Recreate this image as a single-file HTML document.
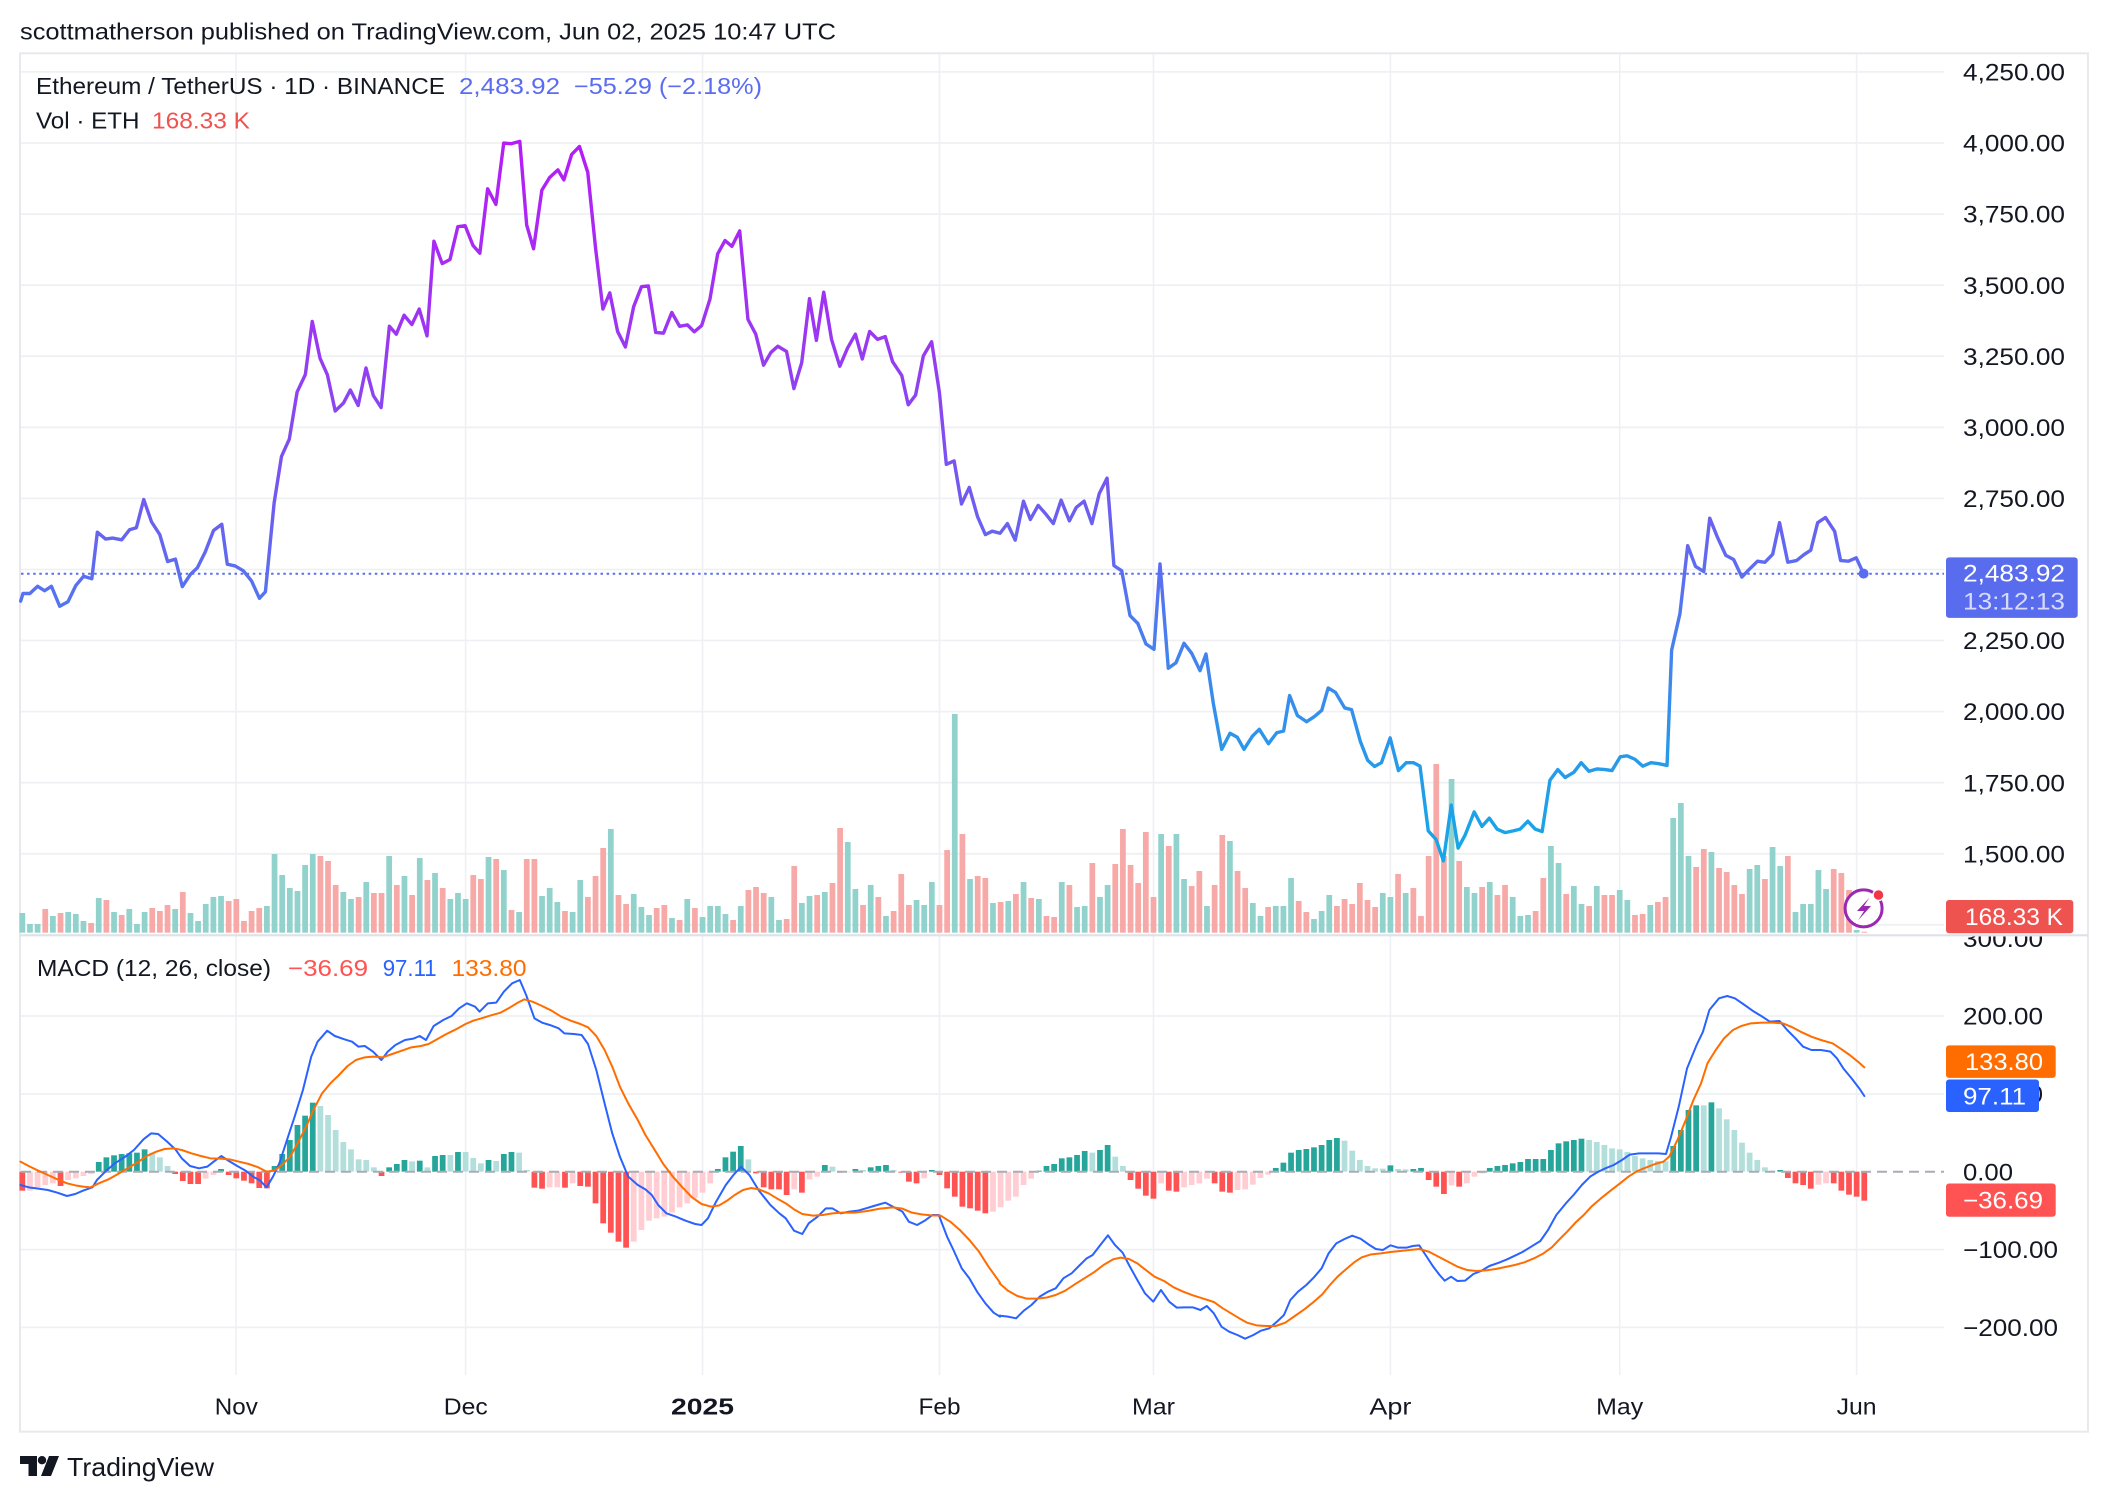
<!DOCTYPE html>
<html><head><meta charset="utf-8">
<style>
html,body{margin:0;padding:0;background:#fff;width:2108px;height:1502px;overflow:hidden}
svg{display:block}
text{font-family:"Liberation Sans",Arial,sans-serif;fill:#131722}
.a{fill:#92d2cc}.b{fill:#f7a9a7}
.G{fill:#26a69a}.h{fill:#b2dfdb}.R{fill:#ff5252}.q{fill:#ffcdd2}
.w{fill:#ffffff}.wl{fill:#d6dbfb}
.pv{fill:#5a6cf0}.rv{fill:#ef5350}.mr{fill:#ff5252}.mb{fill:#2962ff}.mo{fill:#ff6d00}
</style></head><body>
<svg width="2108" height="1502" viewBox="0 0 2108 1502" xmlns="http://www.w3.org/2000/svg">
<defs>
<linearGradient id="gO" gradientUnits="userSpaceOnUse" x1="0" y1="140" x2="0" y2="860">
<stop offset="0" stop-color="#b61cf6"/><stop offset="0.264" stop-color="#9c36f2"/><stop offset="0.472" stop-color="#7656f0"/><stop offset="0.604" stop-color="#5b6ef0"/><stop offset="0.722" stop-color="#4284ee"/><stop offset="0.861" stop-color="#279ae9"/><stop offset="1" stop-color="#14a8e8"/>
</linearGradient>
<linearGradient id="gA" gradientUnits="userSpaceOnUse" x1="0" y1="140" x2="0" y2="860" gradientTransform="scale(1,2.90369) translate(0,-100)">
<stop offset="0" stop-color="#b61cf6"/><stop offset="0.264" stop-color="#9c36f2"/><stop offset="0.472" stop-color="#7656f0"/><stop offset="0.604" stop-color="#5b6ef0"/><stop offset="0.722" stop-color="#4284ee"/><stop offset="0.861" stop-color="#279ae9"/><stop offset="1" stop-color="#14a8e8"/>
</linearGradient>
<linearGradient id="gC" gradientUnits="userSpaceOnUse" x1="0" y1="140" x2="0" y2="860" gradientTransform="scale(1,2.90369) translate(0,-440)">
<stop offset="0" stop-color="#b61cf6"/><stop offset="0.264" stop-color="#9c36f2"/><stop offset="0.472" stop-color="#7656f0"/><stop offset="0.604" stop-color="#5b6ef0"/><stop offset="0.722" stop-color="#4284ee"/><stop offset="0.861" stop-color="#279ae9"/><stop offset="1" stop-color="#14a8e8"/>
</linearGradient>
<clipPath id="c300"><rect x="1940" y="936.5" width="160" height="30"/></clipPath>
</defs>

<!-- header -->
<text x="20" y="39.3" font-size="23" textLength="816" lengthAdjust="spacingAndGlyphs">scottmatherson published on TradingView.com, Jun 02, 2025 10:47 UTC</text>

<!-- frame -->
<rect x="20" y="53.3" width="2068" height="1378.4" fill="none" stroke="#e8e9ed" stroke-width="2"/>

<!-- vertical grid -->
<g stroke="#eff0f3" stroke-width="1.6">
<line x1="236" y1="54" x2="236" y2="1375"/>
<line x1="465.6" y1="54" x2="465.6" y2="1375"/>
<line x1="702.5" y1="54" x2="702.5" y2="1375"/>
<line x1="939.5" y1="54" x2="939.5" y2="1375"/>
<line x1="1153.5" y1="54" x2="1153.5" y2="1375"/>
<line x1="1390.4" y1="54" x2="1390.4" y2="1375"/>
<line x1="1619.7" y1="54" x2="1619.7" y2="1375"/>
<line x1="1856.6" y1="54" x2="1856.6" y2="1375"/>
</g>
<!-- horizontal grid -->
<g stroke="#eff0f3" stroke-width="1.8">
<line x1="21" y1="71.9" x2="1944" y2="71.9"/>
<line x1="21" y1="143" x2="1944" y2="143"/>
<line x1="21" y1="214.1" x2="1944" y2="214.1"/>
<line x1="21" y1="285.2" x2="1944" y2="285.2"/>
<line x1="21" y1="356.2" x2="1944" y2="356.2"/>
<line x1="21" y1="427.3" x2="1944" y2="427.3"/>
<line x1="21" y1="498.4" x2="1944" y2="498.4"/>
<line x1="21" y1="569.5" x2="1944" y2="569.5"/>
<line x1="21" y1="640.5" x2="1944" y2="640.5"/>
<line x1="21" y1="711.6" x2="1944" y2="711.6"/>
<line x1="21" y1="782.7" x2="1944" y2="782.7"/>
<line x1="21" y1="853.8" x2="1944" y2="853.8"/>
<line x1="21" y1="924.8" x2="1944" y2="924.8"/>
<line x1="21" y1="1016" x2="1944" y2="1016"/>
<line x1="21" y1="1094" x2="1944" y2="1094"/>
<line x1="21" y1="1249.6" x2="1944" y2="1249.6"/>
<line x1="21" y1="1327.4" x2="1944" y2="1327.4"/>
</g>

<!-- volume bars -->
<g transform="translate(19.45,700) scale(7.643,0.33333)">
<rect class="a" x="0" y="639" width=".75" height="59"/>
<rect class="a" x="1" y="672" width=".75" height="26"/>
<rect class="a" x="2" y="672" width=".75" height="26"/>
<rect class="b" x="3" y="627" width=".75" height="71"/>
<rect class="a" x="4" y="648" width=".75" height="50"/>
<rect class="b" x="5" y="639" width=".75" height="59"/>
<rect class="a" x="6" y="636" width=".75" height="62"/>
<rect class="a" x="7" y="642" width=".75" height="56"/>
<rect class="a" x="8" y="663" width=".75" height="35"/>
<rect class="b" x="9" y="669" width=".75" height="29"/>
<rect class="a" x="10" y="594" width=".75" height="104"/>
<rect class="b" x="11" y="600" width=".75" height="98"/>
<rect class="a" x="12" y="636" width=".75" height="62"/>
<rect class="b" x="13" y="645" width=".75" height="53"/>
<rect class="a" x="14" y="627" width=".75" height="71"/>
<rect class="a" x="15" y="672" width=".75" height="26"/>
<rect class="a" x="16" y="636" width=".75" height="62"/>
<rect class="b" x="17" y="624" width=".75" height="74"/>
<rect class="b" x="18" y="633" width=".75" height="65"/>
<rect class="b" x="19" y="615" width=".75" height="83"/>
<rect class="a" x="20" y="627" width=".75" height="71"/>
<rect class="b" x="21" y="576" width=".75" height="122"/>
<rect class="a" x="22" y="639" width=".75" height="59"/>
<rect class="a" x="23" y="663" width=".75" height="35"/>
<rect class="a" x="24" y="612" width=".75" height="86"/>
<rect class="a" x="25" y="591" width=".75" height="107"/>
<rect class="a" x="26" y="588" width=".75" height="110"/>
<rect class="b" x="27" y="603" width=".75" height="95"/>
<rect class="b" x="28" y="597" width=".75" height="101"/>
<rect class="b" x="29" y="663" width=".75" height="35"/>
<rect class="b" x="30" y="633" width=".75" height="65"/>
<rect class="b" x="31" y="624" width=".75" height="74"/>
<rect class="a" x="32" y="618" width=".75" height="80"/>
<rect class="a" x="33" y="462" width=".75" height="236"/>
<rect class="a" x="34" y="525" width=".75" height="173"/>
<rect class="a" x="35" y="564" width=".75" height="134"/>
<rect class="a" x="36" y="573" width=".75" height="125"/>
<rect class="a" x="37" y="495" width=".75" height="203"/>
<rect class="a" x="38" y="462" width=".75" height="236"/>
<rect class="b" x="39" y="468" width=".75" height="230"/>
<rect class="b" x="40" y="483" width=".75" height="215"/>
<rect class="b" x="41" y="555" width=".75" height="143"/>
<rect class="a" x="42" y="576" width=".75" height="122"/>
<rect class="a" x="43" y="597" width=".75" height="101"/>
<rect class="b" x="44" y="591" width=".75" height="107"/>
<rect class="a" x="45" y="546" width=".75" height="152"/>
<rect class="b" x="46" y="579" width=".75" height="119"/>
<rect class="b" x="47" y="579" width=".75" height="119"/>
<rect class="a" x="48" y="468" width=".75" height="230"/>
<rect class="b" x="49" y="555" width=".75" height="143"/>
<rect class="a" x="50" y="528" width=".75" height="170"/>
<rect class="b" x="51" y="585" width=".75" height="113"/>
<rect class="a" x="52" y="474" width=".75" height="224"/>
<rect class="b" x="53" y="540" width=".75" height="158"/>
<rect class="a" x="54" y="519" width=".75" height="179"/>
<rect class="b" x="55" y="564" width=".75" height="134"/>
<rect class="a" x="56" y="597" width=".75" height="101"/>
<rect class="a" x="57" y="579" width=".75" height="119"/>
<rect class="a" x="58" y="597" width=".75" height="101"/>
<rect class="b" x="59" y="525" width=".75" height="173"/>
<rect class="b" x="60" y="537" width=".75" height="161"/>
<rect class="a" x="61" y="471" width=".75" height="227"/>
<rect class="b" x="62" y="477" width=".75" height="221"/>
<rect class="a" x="63" y="510" width=".75" height="188"/>
<rect class="b" x="64" y="630" width=".75" height="68"/>
<rect class="a" x="65" y="636" width=".75" height="62"/>
<rect class="b" x="66" y="477" width=".75" height="221"/>
<rect class="b" x="67" y="477" width=".75" height="221"/>
<rect class="a" x="68" y="588" width=".75" height="110"/>
<rect class="a" x="69" y="564" width=".75" height="134"/>
<rect class="a" x="70" y="606" width=".75" height="92"/>
<rect class="b" x="71" y="633" width=".75" height="65"/>
<rect class="a" x="72" y="636" width=".75" height="62"/>
<rect class="a" x="73" y="540" width=".75" height="158"/>
<rect class="b" x="74" y="591" width=".75" height="107"/>
<rect class="b" x="75" y="528" width=".75" height="170"/>
<rect class="b" x="76" y="444" width=".75" height="254"/>
<rect class="a" x="77" y="387" width=".75" height="311"/>
<rect class="b" x="78" y="585" width=".75" height="113"/>
<rect class="b" x="79" y="612" width=".75" height="86"/>
<rect class="a" x="80" y="582" width=".75" height="116"/>
<rect class="a" x="81" y="621" width=".75" height="77"/>
<rect class="a" x="82" y="645" width=".75" height="53"/>
<rect class="b" x="83" y="624" width=".75" height="74"/>
<rect class="b" x="84" y="615" width=".75" height="83"/>
<rect class="a" x="85" y="654" width=".75" height="44"/>
<rect class="b" x="86" y="660" width=".75" height="38"/>
<rect class="a" x="87" y="597" width=".75" height="101"/>
<rect class="b" x="88" y="624" width=".75" height="74"/>
<rect class="a" x="89" y="651" width=".75" height="47"/>
<rect class="a" x="90" y="618" width=".75" height="80"/>
<rect class="a" x="91" y="618" width=".75" height="80"/>
<rect class="a" x="92" y="642" width=".75" height="56"/>
<rect class="b" x="93" y="660" width=".75" height="38"/>
<rect class="a" x="94" y="618" width=".75" height="80"/>
<rect class="b" x="95" y="570" width=".75" height="128"/>
<rect class="b" x="96" y="561" width=".75" height="137"/>
<rect class="b" x="97" y="579" width=".75" height="119"/>
<rect class="a" x="98" y="591" width=".75" height="107"/>
<rect class="a" x="99" y="660" width=".75" height="38"/>
<rect class="b" x="100" y="657" width=".75" height="41"/>
<rect class="b" x="101" y="498" width=".75" height="200"/>
<rect class="a" x="102" y="609" width=".75" height="89"/>
<rect class="a" x="103" y="588" width=".75" height="110"/>
<rect class="b" x="104" y="585" width=".75" height="113"/>
<rect class="a" x="105" y="576" width=".75" height="122"/>
<rect class="b" x="106" y="549" width=".75" height="149"/>
<rect class="b" x="107" y="384" width=".75" height="314"/>
<rect class="a" x="108" y="426" width=".75" height="272"/>
<rect class="a" x="109" y="567" width=".75" height="131"/>
<rect class="b" x="110" y="615" width=".75" height="83"/>
<rect class="a" x="111" y="555" width=".75" height="143"/>
<rect class="b" x="112" y="591" width=".75" height="107"/>
<rect class="a" x="113" y="648" width=".75" height="50"/>
<rect class="b" x="114" y="633" width=".75" height="65"/>
<rect class="b" x="115" y="522" width=".75" height="176"/>
<rect class="b" x="116" y="615" width=".75" height="83"/>
<rect class="a" x="117" y="600" width=".75" height="98"/>
<rect class="a" x="118" y="615" width=".75" height="83"/>
<rect class="a" x="119" y="546" width=".75" height="152"/>
<rect class="b" x="120" y="615" width=".75" height="83"/>
<rect class="b" x="121" y="450" width=".75" height="248"/>
<rect class="a" x="122" y="42" width=".75" height="656"/>
<rect class="b" x="123" y="402" width=".75" height="296"/>
<rect class="a" x="124" y="537" width=".75" height="161"/>
<rect class="b" x="125" y="528" width=".75" height="170"/>
<rect class="b" x="126" y="534" width=".75" height="164"/>
<rect class="a" x="127" y="609" width=".75" height="89"/>
<rect class="b" x="128" y="606" width=".75" height="92"/>
<rect class="a" x="129" y="603" width=".75" height="95"/>
<rect class="b" x="130" y="582" width=".75" height="116"/>
<rect class="a" x="131" y="546" width=".75" height="152"/>
<rect class="b" x="132" y="594" width=".75" height="104"/>
<rect class="a" x="133" y="597" width=".75" height="101"/>
<rect class="b" x="134" y="648" width=".75" height="50"/>
<rect class="b" x="135" y="651" width=".75" height="47"/>
<rect class="a" x="136" y="546" width=".75" height="152"/>
<rect class="b" x="137" y="555" width=".75" height="143"/>
<rect class="a" x="138" y="621" width=".75" height="77"/>
<rect class="a" x="139" y="618" width=".75" height="80"/>
<rect class="b" x="140" y="489" width=".75" height="209"/>
<rect class="a" x="141" y="591" width=".75" height="107"/>
<rect class="a" x="142" y="555" width=".75" height="143"/>
<rect class="b" x="143" y="492" width=".75" height="206"/>
<rect class="b" x="144" y="387" width=".75" height="311"/>
<rect class="b" x="145" y="495" width=".75" height="203"/>
<rect class="b" x="146" y="549" width=".75" height="149"/>
<rect class="b" x="147" y="396" width=".75" height="302"/>
<rect class="b" x="148" y="591" width=".75" height="107"/>
<rect class="a" x="149" y="402" width=".75" height="296"/>
<rect class="b" x="150" y="438" width=".75" height="260"/>
<rect class="a" x="151" y="402" width=".75" height="296"/>
<rect class="a" x="152" y="537" width=".75" height="161"/>
<rect class="b" x="153" y="558" width=".75" height="140"/>
<rect class="b" x="154" y="513" width=".75" height="185"/>
<rect class="a" x="155" y="618" width=".75" height="80"/>
<rect class="b" x="156" y="555" width=".75" height="143"/>
<rect class="b" x="157" y="405" width=".75" height="293"/>
<rect class="a" x="158" y="423" width=".75" height="275"/>
<rect class="b" x="159" y="513" width=".75" height="185"/>
<rect class="b" x="160" y="564" width=".75" height="134"/>
<rect class="a" x="161" y="609" width=".75" height="89"/>
<rect class="a" x="162" y="648" width=".75" height="50"/>
<rect class="b" x="163" y="621" width=".75" height="77"/>
<rect class="a" x="164" y="618" width=".75" height="80"/>
<rect class="a" x="165" y="618" width=".75" height="80"/>
<rect class="a" x="166" y="534" width=".75" height="164"/>
<rect class="b" x="167" y="603" width=".75" height="95"/>
<rect class="b" x="168" y="636" width=".75" height="62"/>
<rect class="a" x="169" y="657" width=".75" height="41"/>
<rect class="a" x="170" y="633" width=".75" height="65"/>
<rect class="a" x="171" y="585" width=".75" height="113"/>
<rect class="b" x="172" y="618" width=".75" height="80"/>
<rect class="b" x="173" y="597" width=".75" height="101"/>
<rect class="b" x="174" y="612" width=".75" height="86"/>
<rect class="b" x="175" y="549" width=".75" height="149"/>
<rect class="b" x="176" y="600" width=".75" height="98"/>
<rect class="b" x="177" y="621" width=".75" height="77"/>
<rect class="a" x="178" y="579" width=".75" height="119"/>
<rect class="a" x="179" y="591" width=".75" height="107"/>
<rect class="b" x="180" y="522" width=".75" height="176"/>
<rect class="a" x="181" y="579" width=".75" height="119"/>
<rect class="b" x="182" y="564" width=".75" height="134"/>
<rect class="b" x="183" y="648" width=".75" height="50"/>
<rect class="b" x="184" y="468" width=".75" height="230"/>
<rect class="b" x="185" y="192" width=".75" height="506"/>
<rect class="b" x="186" y="468" width=".75" height="230"/>
<rect class="a" x="187" y="237" width=".75" height="461"/>
<rect class="b" x="188" y="483" width=".75" height="215"/>
<rect class="a" x="189" y="561" width=".75" height="137"/>
<rect class="a" x="190" y="579" width=".75" height="119"/>
<rect class="b" x="191" y="561" width=".75" height="137"/>
<rect class="a" x="192" y="546" width=".75" height="152"/>
<rect class="b" x="193" y="585" width=".75" height="113"/>
<rect class="b" x="194" y="555" width=".75" height="143"/>
<rect class="a" x="195" y="591" width=".75" height="107"/>
<rect class="a" x="196" y="648" width=".75" height="50"/>
<rect class="a" x="197" y="645" width=".75" height="53"/>
<rect class="b" x="198" y="633" width=".75" height="65"/>
<rect class="b" x="199" y="534" width=".75" height="164"/>
<rect class="a" x="200" y="438" width=".75" height="260"/>
<rect class="a" x="201" y="489" width=".75" height="209"/>
<rect class="b" x="202" y="582" width=".75" height="116"/>
<rect class="a" x="203" y="558" width=".75" height="140"/>
<rect class="a" x="204" y="612" width=".75" height="86"/>
<rect class="b" x="205" y="618" width=".75" height="80"/>
<rect class="a" x="206" y="558" width=".75" height="140"/>
<rect class="b" x="207" y="585" width=".75" height="113"/>
<rect class="b" x="208" y="585" width=".75" height="113"/>
<rect class="a" x="209" y="570" width=".75" height="128"/>
<rect class="a" x="210" y="600" width=".75" height="98"/>
<rect class="b" x="211" y="645" width=".75" height="53"/>
<rect class="b" x="212" y="642" width=".75" height="56"/>
<rect class="a" x="213" y="615" width=".75" height="83"/>
<rect class="b" x="214" y="606" width=".75" height="92"/>
<rect class="b" x="215" y="591" width=".75" height="107"/>
<rect class="a" x="216" y="354" width=".75" height="344"/>
<rect class="a" x="217" y="309" width=".75" height="389"/>
<rect class="a" x="218" y="468" width=".75" height="230"/>
<rect class="b" x="219" y="501" width=".75" height="197"/>
<rect class="b" x="220" y="447" width=".75" height="251"/>
<rect class="a" x="221" y="456" width=".75" height="242"/>
<rect class="b" x="222" y="504" width=".75" height="194"/>
<rect class="b" x="223" y="516" width=".75" height="182"/>
<rect class="b" x="224" y="555" width=".75" height="143"/>
<rect class="b" x="225" y="582" width=".75" height="116"/>
<rect class="a" x="226" y="507" width=".75" height="191"/>
<rect class="a" x="227" y="495" width=".75" height="203"/>
<rect class="b" x="228" y="537" width=".75" height="161"/>
<rect class="a" x="229" y="441" width=".75" height="257"/>
<rect class="a" x="230" y="498" width=".75" height="200"/>
<rect class="b" x="231" y="468" width=".75" height="230"/>
<rect class="a" x="232" y="636" width=".75" height="62"/>
<rect class="a" x="233" y="612" width=".75" height="86"/>
<rect class="a" x="234" y="612" width=".75" height="86"/>
<rect class="a" x="235" y="510" width=".75" height="188"/>
<rect class="a" x="236" y="567" width=".75" height="131"/>
<rect class="b" x="237" y="507" width=".75" height="191"/>
<rect class="b" x="238" y="519" width=".75" height="179"/>
<rect class="b" x="239" y="570" width=".75" height="128"/>
<rect class="a" x="240" y="690" width=".75" height="8"/>
<rect class="b" x="241" y="695" width=".75" height="3"/>
</g>

<!-- dotted last price line -->
<line x1="21" y1="573.8" x2="1944" y2="573.8" stroke="#5a6cf0" stroke-width="2" stroke-dasharray="2.5 3.6"/>

<!-- price line -->
<g fill="none" stroke-width="3.4" stroke-linejoin="round" stroke-linecap="round">
<polyline vector-effect="non-scaling-stroke" stroke="url(#gA)" transform="translate(0,100) scale(0.45918,0.34439)" points="45,1455 50,1433 65,1433 82,1412 97,1425 112,1412 130,1470 148,1457 165,1410 182,1383 200,1390 212,1255 230,1275 245,1272 265,1277 282,1248 297,1242 313,1160 330,1225 348,1262 365,1340 382,1333 397,1413 415,1377 430,1358 447,1312 465,1250 483,1232 495,1348 512,1353 530,1367 548,1397 565,1447 578,1428 597,1170 613,1035 630,985 647,848 665,797 680,643 697,750 713,798 730,903 748,880 763,842 780,887 797,778 813,858 830,893 848,657 863,680 880,625 897,652 913,607 930,685 945,410 963,475 980,463 997,368 1013,365 1030,422 1045,445 1062,258 1080,303 1097,125 1113,127 1132,120 1147,363 1162,432 1180,262 1197,225 1215,203 1228,232 1245,158 1262,135 1280,210 1297,430 1313,607 1328,560 1345,672 1362,717 1380,600 1397,542 1412,540 1428,675 1445,677 1463,617 1480,657 1497,653 1512,673 1528,655 1545,583"/>
<polyline vector-effect="non-scaling-stroke" stroke="url(#gA)" transform="translate(680,100) scale(0.45918,0.34439)" points="65,580 82,447 98,408 113,425 130,380 148,637 165,680 182,770 198,733 213,715 232,730 248,838 265,763 282,577 297,698 313,558 330,695 348,773 365,720 382,680 397,752 413,672 430,695 447,687 463,760 483,800 497,885 513,857 530,743 548,702 565,850 580,1058 597,1048 613,1173 630,1125 648,1210 665,1262 680,1252 697,1258 713,1230 730,1278 748,1165 763,1218 780,1177 797,1203 813,1230 830,1162 848,1222 863,1183 880,1165 897,1230 913,1143 930,1098 945,1352 962,1367 980,1497 997,1520"/>
<polyline stroke="url(#gO)" points="1137.8,623.4 1146,644 1154,649.3 1160,564 1168.3,668.3 1176,662.7 1184,643.3 1191.7,653.3 1200,670.7 1206,654 1213.3,703.3 1221.7,749.3 1230,733.3 1237.3,737.3 1244,749.3 1252.4,736.2"/>
<polyline vector-effect="non-scaling-stroke" stroke="url(#gC)" transform="translate(1240,440) scale(0.45918,0.34439)" points="27,860 42,840 62,882 80,850 95,845 108,742 125,800 145,818 162,803 178,785 192,720 208,733 228,778 243,783 262,875 278,930 293,948 308,937 327,865 345,960 362,937 378,937 392,947 410,1135 427,1160 443,1222 460,1060 475,1185 490,1148 510,1080 527,1122 543,1098 560,1130 577,1140 595,1135 610,1130 627,1107 643,1130 658,1137 675,988 692,957 708,980 727,965 743,937 760,962 778,955 795,957 810,960 828,920 843,917 860,927 877,947 895,937 912,940 930,945 940,610 958,505 975,307 992,367 1010,382 1023,227 1040,283 1058,335 1075,347 1093,398 1108,377 1127,352 1143,355 1160,332 1175,240 1193,355 1212,350 1228,333 1243,320 1258,240 1275,225 1295,265 1308,350 1325,352 1342,342 1358,388"/>
</g>
<circle cx="1863.6" cy="573.6" r="5" fill="#5a6cf0"/>

<!-- lightning icon -->
<circle cx="1863.6" cy="908.4" r="18.5" fill="#fff" stroke="#9c27b0" stroke-width="3"/>
<path d="M1869.5,897.5 L1857,911 L1864,911 L1858,920.5 L1871,906 L1864,906 Z" fill="#9c27b0"/>
<circle cx="1878.5" cy="895" r="5.5" fill="#f23645" stroke="#fff" stroke-width="1.5"/>

<!-- pane separator -->
<line x1="20" y1="935.3" x2="2088" y2="935.3" stroke="#dfe1e8" stroke-width="2.2"/>

<!-- MACD histogram -->
<g transform="translate(19.45,950) scale(7.643,0.33333)">
<rect class="R" x="0" y="665" width=".75" height="57"/>
<rect class="q" x="1" y="665" width=".75" height="57"/>
<rect class="q" x="2" y="665" width=".75" height="47"/>
<rect class="q" x="3" y="665" width=".75" height="40"/>
<rect class="q" x="4" y="665" width=".75" height="35"/>
<rect class="R" x="5" y="665" width=".75" height="43"/>
<rect class="q" x="6" y="665" width=".75" height="25"/>
<rect class="q" x="7" y="665" width=".75" height="20"/>
<rect class="q" x="8" y="665" width=".75" height="13"/>
<rect class="q" x="9" y="665" width=".75" height="7"/>
<rect class="G" x="10" y="636" width=".75" height="29"/>
<rect class="G" x="11" y="622" width=".75" height="43"/>
<rect class="G" x="12" y="616" width=".75" height="49"/>
<rect class="G" x="13" y="612" width=".75" height="53"/>
<rect class="G" x="14" y="610" width=".75" height="55"/>
<rect class="G" x="15" y="608" width=".75" height="57"/>
<rect class="G" x="16" y="598" width=".75" height="67"/>
<rect class="h" x="17" y="608" width=".75" height="57"/>
<rect class="h" x="18" y="622" width=".75" height="43"/>
<rect class="h" x="19" y="648" width=".75" height="17"/>
<rect class="R" x="20" y="665" width=".75" height="7"/>
<rect class="R" x="21" y="665" width=".75" height="28"/>
<rect class="R" x="22" y="665" width=".75" height="37"/>
<rect class="R" x="23" y="665" width=".75" height="37"/>
<rect class="q" x="24" y="665" width=".75" height="21"/>
<rect class="q" x="25" y="665" width=".75" height="10"/>
<rect class="G" x="26" y="657" width=".75" height="8"/>
<rect class="R" x="27" y="665" width=".75" height="10"/>
<rect class="R" x="28" y="665" width=".75" height="20"/>
<rect class="R" x="29" y="665" width=".75" height="27"/>
<rect class="R" x="30" y="665" width=".75" height="35"/>
<rect class="R" x="31" y="665" width=".75" height="49"/>
<rect class="R" x="32" y="665" width=".75" height="50"/>
<rect class="G" x="33" y="648" width=".75" height="17"/>
<rect class="G" x="34" y="612" width=".75" height="53"/>
<rect class="G" x="35" y="570" width=".75" height="95"/>
<rect class="G" x="36" y="525" width=".75" height="140"/>
<rect class="G" x="37" y="497" width=".75" height="168"/>
<rect class="G" x="38" y="458" width=".75" height="207"/>
<rect class="h" x="39" y="468" width=".75" height="197"/>
<rect class="h" x="40" y="495" width=".75" height="170"/>
<rect class="h" x="41" y="540" width=".75" height="125"/>
<rect class="h" x="42" y="576" width=".75" height="89"/>
<rect class="h" x="43" y="598" width=".75" height="67"/>
<rect class="h" x="44" y="628" width=".75" height="37"/>
<rect class="h" x="45" y="630" width=".75" height="35"/>
<rect class="h" x="46" y="652" width=".75" height="13"/>
<rect class="R" x="47" y="665" width=".75" height="13"/>
<rect class="G" x="48" y="652" width=".75" height="13"/>
<rect class="G" x="49" y="642" width=".75" height="23"/>
<rect class="G" x="50" y="630" width=".75" height="35"/>
<rect class="h" x="51" y="634" width=".75" height="31"/>
<rect class="G" x="52" y="632" width=".75" height="33"/>
<rect class="h" x="53" y="652" width=".75" height="13"/>
<rect class="G" x="54" y="618" width=".75" height="47"/>
<rect class="G" x="55" y="615" width=".75" height="50"/>
<rect class="h" x="56" y="615" width=".75" height="50"/>
<rect class="G" x="57" y="606" width=".75" height="59"/>
<rect class="h" x="58" y="606" width=".75" height="59"/>
<rect class="h" x="59" y="624" width=".75" height="41"/>
<rect class="h" x="60" y="640" width=".75" height="25"/>
<rect class="G" x="61" y="630" width=".75" height="35"/>
<rect class="h" x="62" y="633" width=".75" height="32"/>
<rect class="G" x="63" y="612" width=".75" height="53"/>
<rect class="G" x="64" y="606" width=".75" height="59"/>
<rect class="h" x="65" y="608" width=".75" height="57"/>
<rect class="h" x="66" y="660" width=".75" height="5"/>
<rect class="R" x="67" y="665" width=".75" height="48"/>
<rect class="R" x="68" y="665" width=".75" height="51"/>
<rect class="q" x="69" y="665" width=".75" height="47"/>
<rect class="q" x="70" y="665" width=".75" height="47"/>
<rect class="R" x="71" y="665" width=".75" height="48"/>
<rect class="q" x="72" y="665" width=".75" height="35"/>
<rect class="R" x="73" y="665" width=".75" height="43"/>
<rect class="R" x="74" y="665" width=".75" height="45"/>
<rect class="R" x="75" y="665" width=".75" height="95"/>
<rect class="R" x="76" y="665" width=".75" height="155"/>
<rect class="R" x="77" y="665" width=".75" height="183"/>
<rect class="R" x="78" y="665" width=".75" height="210"/>
<rect class="R" x="79" y="665" width=".75" height="228"/>
<rect class="q" x="80" y="665" width=".75" height="210"/>
<rect class="q" x="81" y="665" width=".75" height="175"/>
<rect class="q" x="82" y="665" width=".75" height="147"/>
<rect class="q" x="83" y="665" width=".75" height="140"/>
<rect class="q" x="84" y="665" width=".75" height="135"/>
<rect class="q" x="85" y="665" width=".75" height="123"/>
<rect class="q" x="86" y="665" width=".75" height="107"/>
<rect class="q" x="87" y="665" width=".75" height="95"/>
<rect class="q" x="88" y="665" width=".75" height="80"/>
<rect class="q" x="89" y="665" width=".75" height="63"/>
<rect class="q" x="90" y="665" width=".75" height="35"/>
<rect class="G" x="91" y="657" width=".75" height="8"/>
<rect class="G" x="92" y="622" width=".75" height="43"/>
<rect class="G" x="93" y="605" width=".75" height="60"/>
<rect class="G" x="94" y="588" width=".75" height="77"/>
<rect class="h" x="95" y="628" width=".75" height="37"/>
<rect class="R" x="96" y="665" width=".75" height="5"/>
<rect class="R" x="97" y="665" width=".75" height="47"/>
<rect class="R" x="98" y="665" width=".75" height="53"/>
<rect class="R" x="99" y="665" width=".75" height="53"/>
<rect class="R" x="100" y="665" width=".75" height="70"/>
<rect class="q" x="101" y="665" width=".75" height="53"/>
<rect class="R" x="102" y="665" width=".75" height="63"/>
<rect class="q" x="103" y="665" width=".75" height="23"/>
<rect class="q" x="104" y="665" width=".75" height="15"/>
<rect class="G" x="105" y="645" width=".75" height="20"/>
<rect class="h" x="106" y="650" width=".75" height="15"/>
<rect class="R" x="107" y="665" width=".75" height="3"/>
<rect class="q" x="108" y="665" width=".75" height="2"/>
<rect class="G" x="109" y="657" width=".75" height="8"/>
<rect class="h" x="110" y="660" width=".75" height="5"/>
<rect class="G" x="111" y="652" width=".75" height="13"/>
<rect class="G" x="112" y="648" width=".75" height="17"/>
<rect class="G" x="113" y="645" width=".75" height="20"/>
<rect class="h" x="114" y="660" width=".75" height="5"/>
<rect class="R" x="115" y="665" width=".75" height="3"/>
<rect class="R" x="116" y="665" width=".75" height="30"/>
<rect class="R" x="117" y="665" width=".75" height="35"/>
<rect class="q" x="118" y="665" width=".75" height="20"/>
<rect class="G" x="119" y="660" width=".75" height="5"/>
<rect class="R" x="120" y="665" width=".75" height="10"/>
<rect class="R" x="121" y="665" width=".75" height="50"/>
<rect class="R" x="122" y="665" width=".75" height="75"/>
<rect class="R" x="123" y="665" width=".75" height="105"/>
<rect class="R" x="124" y="665" width=".75" height="110"/>
<rect class="R" x="125" y="665" width=".75" height="117"/>
<rect class="R" x="126" y="665" width=".75" height="125"/>
<rect class="q" x="127" y="665" width=".75" height="120"/>
<rect class="q" x="128" y="665" width=".75" height="107"/>
<rect class="q" x="129" y="665" width=".75" height="87"/>
<rect class="q" x="130" y="665" width=".75" height="75"/>
<rect class="q" x="131" y="665" width=".75" height="40"/>
<rect class="q" x="132" y="665" width=".75" height="21"/>
<rect class="G" x="133" y="662" width=".75" height="3"/>
<rect class="G" x="134" y="648" width=".75" height="17"/>
<rect class="G" x="135" y="642" width=".75" height="23"/>
<rect class="G" x="136" y="625" width=".75" height="40"/>
<rect class="G" x="137" y="622" width=".75" height="43"/>
<rect class="G" x="138" y="615" width=".75" height="50"/>
<rect class="G" x="139" y="603" width=".75" height="62"/>
<rect class="h" x="140" y="608" width=".75" height="57"/>
<rect class="G" x="141" y="600" width=".75" height="65"/>
<rect class="G" x="142" y="585" width=".75" height="80"/>
<rect class="h" x="143" y="620" width=".75" height="45"/>
<rect class="h" x="144" y="648" width=".75" height="17"/>
<rect class="R" x="145" y="665" width=".75" height="25"/>
<rect class="R" x="146" y="665" width=".75" height="51"/>
<rect class="R" x="147" y="665" width=".75" height="72"/>
<rect class="R" x="148" y="665" width=".75" height="81"/>
<rect class="q" x="149" y="665" width=".75" height="35"/>
<rect class="R" x="150" y="665" width=".75" height="57"/>
<rect class="R" x="151" y="665" width=".75" height="60"/>
<rect class="q" x="152" y="665" width=".75" height="47"/>
<rect class="q" x="153" y="665" width=".75" height="40"/>
<rect class="q" x="154" y="665" width=".75" height="35"/>
<rect class="q" x="155" y="665" width=".75" height="21"/>
<rect class="R" x="156" y="665" width=".75" height="35"/>
<rect class="R" x="157" y="665" width=".75" height="60"/>
<rect class="R" x="158" y="665" width=".75" height="63"/>
<rect class="q" x="159" y="665" width=".75" height="55"/>
<rect class="q" x="160" y="665" width=".75" height="53"/>
<rect class="q" x="161" y="665" width=".75" height="39"/>
<rect class="q" x="162" y="665" width=".75" height="19"/>
<rect class="q" x="163" y="665" width=".75" height="9"/>
<rect class="G" x="164" y="654" width=".75" height="11"/>
<rect class="G" x="165" y="638" width=".75" height="27"/>
<rect class="G" x="166" y="608" width=".75" height="57"/>
<rect class="G" x="167" y="600" width=".75" height="65"/>
<rect class="G" x="168" y="597" width=".75" height="68"/>
<rect class="G" x="169" y="592" width=".75" height="73"/>
<rect class="G" x="170" y="585" width=".75" height="80"/>
<rect class="G" x="171" y="570" width=".75" height="95"/>
<rect class="G" x="172" y="564" width=".75" height="101"/>
<rect class="h" x="173" y="572" width=".75" height="93"/>
<rect class="h" x="174" y="602" width=".75" height="63"/>
<rect class="h" x="175" y="630" width=".75" height="35"/>
<rect class="h" x="176" y="648" width=".75" height="17"/>
<rect class="h" x="177" y="655" width=".75" height="10"/>
<rect class="h" x="178" y="656" width=".75" height="9"/>
<rect class="G" x="179" y="646" width=".75" height="19"/>
<rect class="h" x="180" y="657" width=".75" height="8"/>
<rect class="h" x="181" y="658" width=".75" height="7"/>
<rect class="G" x="182" y="657" width=".75" height="8"/>
<rect class="G" x="183" y="654" width=".75" height="11"/>
<rect class="R" x="184" y="665" width=".75" height="25"/>
<rect class="R" x="185" y="665" width=".75" height="45"/>
<rect class="R" x="186" y="665" width=".75" height="67"/>
<rect class="q" x="187" y="665" width=".75" height="41"/>
<rect class="R" x="188" y="665" width=".75" height="45"/>
<rect class="q" x="189" y="665" width=".75" height="35"/>
<rect class="q" x="190" y="665" width=".75" height="15"/>
<rect class="q" x="191" y="665" width=".75" height="5"/>
<rect class="G" x="192" y="654" width=".75" height="11"/>
<rect class="G" x="193" y="648" width=".75" height="17"/>
<rect class="G" x="194" y="645" width=".75" height="20"/>
<rect class="G" x="195" y="640" width=".75" height="25"/>
<rect class="G" x="196" y="636" width=".75" height="29"/>
<rect class="G" x="197" y="627" width=".75" height="38"/>
<rect class="G" x="198" y="627" width=".75" height="38"/>
<rect class="G" x="199" y="627" width=".75" height="38"/>
<rect class="G" x="200" y="600" width=".75" height="65"/>
<rect class="G" x="201" y="580" width=".75" height="85"/>
<rect class="G" x="202" y="574" width=".75" height="91"/>
<rect class="G" x="203" y="570" width=".75" height="95"/>
<rect class="G" x="204" y="566" width=".75" height="99"/>
<rect class="h" x="205" y="570" width=".75" height="95"/>
<rect class="h" x="206" y="576" width=".75" height="89"/>
<rect class="h" x="207" y="585" width=".75" height="80"/>
<rect class="h" x="208" y="595" width=".75" height="70"/>
<rect class="h" x="209" y="598" width=".75" height="67"/>
<rect class="h" x="210" y="606" width=".75" height="59"/>
<rect class="h" x="211" y="618" width=".75" height="47"/>
<rect class="h" x="212" y="625" width=".75" height="40"/>
<rect class="h" x="213" y="630" width=".75" height="35"/>
<rect class="h" x="214" y="633" width=".75" height="32"/>
<rect class="h" x="215" y="634" width=".75" height="31"/>
<rect class="G" x="216" y="588" width=".75" height="77"/>
<rect class="G" x="217" y="540" width=".75" height="125"/>
<rect class="G" x="218" y="480" width=".75" height="185"/>
<rect class="G" x="219" y="466" width=".75" height="199"/>
<rect class="h" x="220" y="466" width=".75" height="199"/>
<rect class="G" x="221" y="457" width=".75" height="208"/>
<rect class="h" x="222" y="475" width=".75" height="190"/>
<rect class="h" x="223" y="508" width=".75" height="157"/>
<rect class="h" x="224" y="540" width=".75" height="125"/>
<rect class="h" x="225" y="578" width=".75" height="87"/>
<rect class="h" x="226" y="608" width=".75" height="57"/>
<rect class="h" x="227" y="630" width=".75" height="35"/>
<rect class="h" x="228" y="652" width=".75" height="13"/>
<rect class="h" x="229" y="662" width=".75" height="3"/>
<rect class="G" x="230" y="660" width=".75" height="5"/>
<rect class="R" x="231" y="665" width=".75" height="19"/>
<rect class="R" x="232" y="665" width=".75" height="35"/>
<rect class="R" x="233" y="665" width=".75" height="40"/>
<rect class="R" x="234" y="665" width=".75" height="51"/>
<rect class="q" x="235" y="665" width=".75" height="39"/>
<rect class="q" x="236" y="665" width=".75" height="35"/>
<rect class="R" x="237" y="665" width=".75" height="35"/>
<rect class="R" x="238" y="665" width=".75" height="57"/>
<rect class="R" x="239" y="665" width=".75" height="69"/>
<rect class="R" x="240" y="665" width=".75" height="75"/>
<rect class="R" x="241" y="665" width=".75" height="87"/>
</g>

<!-- zero line -->
<line x1="21" y1="1171.7" x2="1944" y2="1171.7" stroke="#a9acb5" stroke-width="2" stroke-dasharray="10 6"/>

<!-- MACD lines -->
<g fill="none" stroke-width="2" stroke-linejoin="round" stroke-linecap="round">
<polyline vector-effect="non-scaling-stroke" stroke="#2962ff" transform="translate(0,950) scale(0.63776,0.33333)" points="32,705 45,712 60,716 75,720 90,728 105,738 118,732 130,722 145,712 152,690 165,665 180,640 195,622 210,600 225,568 237,550 248,552 262,575 275,598 285,625 298,648 312,655 325,650 335,635 347,618 358,632 372,648 385,662 397,680 408,692 418,712 428,680 438,640 450,570 462,500 475,420 488,320 498,275 513,242 525,258 540,268 552,275 562,290 572,288 585,305 598,330 608,305 620,285 635,270 648,266 658,258 668,270 680,228 695,210 708,198 720,175 732,160 745,170 752,185 765,160 778,158 790,125 803,100 815,90 825,135 838,205 850,218 862,225 876,235 885,250 900,252 912,255 922,282 935,360 948,460 960,550 972,620 985,680 1000,705 1012,718 1022,735 1032,765 1045,790 1060,800 1075,812 1090,822 1100,825 1110,805 1122,758 1138,705 1150,675 1162,650 1175,675 1190,722 1208,765 1222,790 1232,805 1245,842 1258,852 1268,820 1282,800 1295,775 1305,775 1318,790 1332,785 1345,782 1358,775 1370,768 1388,758 1400,770 1415,785 1425,815 1438,825 1450,812 1462,795 1472,795 1485,860 1495,900 1508,955 1520,985 1532,1025 1545,1060 1558,1088 1568,1100"/>
<polyline vector-effect="non-scaling-stroke" stroke="#2962ff" transform="translate(960,950) scale(0.63776,0.33333)" points="62,1097 75,1100 88,1105 100,1082 112,1065 125,1040 138,1025 150,1015 162,985 175,970 188,945 198,926 208,915 220,885 232,856 243,885 255,908 265,945 278,990 290,1030 303,1055 315,1020 328,1055 340,1073 352,1072 365,1072 377,1080 387,1068 398,1090 410,1130 422,1145 435,1155 447,1166 460,1155 472,1142 485,1135 497,1115 508,1095 518,1050 530,1025 543,1005 555,982 567,955 578,910 590,880 603,867 615,857 628,866 642,885 652,897 663,900 675,886 687,893 700,893 710,888 720,886 730,915 742,950 752,975 760,992 770,980 780,993 792,992 805,972 818,962 830,948 845,938 858,928 870,917 882,906 893,893 910,873 922,840 935,795 950,760 962,735 975,705 988,680 1000,666 1012,655 1025,645 1038,630 1050,614 1065,610 1080,610 1095,610 1107,612 1115,560 1127,470 1140,355 1155,285 1165,245 1175,180 1190,145 1203,138 1215,145 1228,162 1245,185 1258,200 1270,215 1285,213 1297,240 1310,265 1322,290 1335,300 1350,300 1365,305 1375,325 1385,355 1398,385 1410,415 1418,438"/>
<polyline vector-effect="non-scaling-stroke" stroke="#ff6d00" transform="translate(0,950) scale(0.63776,0.33333)" points="32,635 45,648 60,662 75,675 90,688 105,700 118,706 130,710 142,712 155,700 170,688 185,672 200,655 215,638 230,618 245,605 258,597 272,595 285,600 300,610 315,618 330,625 345,626 360,628 375,635 390,642 405,652 418,665 430,662 442,645 455,620 468,575 480,530 492,478 505,430 518,400 530,378 545,348 558,330 572,322 585,320 600,322 615,312 630,302 645,292 660,288 672,282 685,268 700,252 715,238 730,222 742,212 755,205 770,196 785,188 800,172 812,158 822,148 835,155 850,168 865,182 880,200 895,212 910,222 922,232 935,258 948,300 960,350 972,410 985,460 1000,510 1012,555 1025,595 1040,642 1055,680 1070,712 1085,742 1100,762 1115,770 1128,766 1140,752 1152,735 1165,720 1178,714 1190,718 1205,730 1218,745 1232,760 1245,778 1258,792 1275,797 1290,795 1305,790 1320,788 1340,788 1360,783 1380,776 1400,772 1415,776 1430,788 1445,793 1460,796 1475,797 1490,815 1505,840 1520,870 1535,905 1550,950 1568,998"/>
<polyline vector-effect="non-scaling-stroke" stroke="#ff6d00" transform="translate(960,950) scale(0.63776,0.33333)" points="62,1000 75,1022 90,1038 105,1046 120,1046 135,1043 150,1035 165,1022 180,1003 195,985 210,967 225,945 240,928 252,923 265,927 278,940 290,958 305,980 320,993 335,1012 350,1025 365,1036 380,1045 398,1056 412,1075 425,1090 438,1105 450,1118 465,1126 480,1128 495,1128 510,1118 525,1098 540,1078 555,1055 568,1033 580,1005 592,980 605,958 618,937 630,922 645,913 660,910 675,906 690,903 705,900 720,897 735,905 750,920 765,935 780,950 795,960 810,963 825,961 840,957 855,951 870,945 885,937 900,925 915,910 928,892 940,868 952,845 965,818 978,795 990,770 1005,745 1020,722 1035,700 1048,680 1062,663 1075,653 1090,642 1103,635 1112,620 1125,570 1138,510 1150,450 1162,400 1172,340 1185,300 1198,265 1212,240 1225,228 1240,220 1258,218 1275,218 1290,220 1303,230 1318,245 1335,260 1350,270 1368,280 1380,295 1395,315 1408,335 1418,352"/>
</g>

<!-- legends -->
<text x="36" y="94" font-size="23" textLength="409" lengthAdjust="spacingAndGlyphs">Ethereum / TetherUS · 1D · BINANCE</text>
<text class="pv" x="459" y="94" font-size="23" textLength="101" lengthAdjust="spacingAndGlyphs">2,483.92</text>
<text class="pv" x="574" y="94" font-size="23" textLength="188" lengthAdjust="spacingAndGlyphs">−55.29 (−2.18%)</text>
<text x="36" y="128.3" font-size="23" textLength="103.5" lengthAdjust="spacingAndGlyphs">Vol · ETH</text>
<text class="rv" x="152" y="128.3" font-size="23" textLength="98" lengthAdjust="spacingAndGlyphs">168.33 K</text>
<text x="37" y="976" font-size="23" textLength="234" lengthAdjust="spacingAndGlyphs">MACD (12, 26, close)</text>
<text class="mr" x="288" y="976" font-size="23" textLength="80" lengthAdjust="spacingAndGlyphs">−36.69</text>
<text class="mb" x="382.7" y="976" font-size="23" textLength="54" lengthAdjust="spacingAndGlyphs">97.11</text>
<text class="mo" x="451.5" y="976" font-size="23" textLength="75" lengthAdjust="spacingAndGlyphs">133.80</text>

<!-- price axis labels -->
<g font-size="24">
<text x="1963" y="80.5" textLength="102" lengthAdjust="spacingAndGlyphs">4,250.00</text>
<text x="1963" y="151.6" textLength="102" lengthAdjust="spacingAndGlyphs">4,000.00</text>
<text x="1963" y="222.7" textLength="102" lengthAdjust="spacingAndGlyphs">3,750.00</text>
<text x="1963" y="293.8" textLength="102" lengthAdjust="spacingAndGlyphs">3,500.00</text>
<text x="1963" y="364.8" textLength="102" lengthAdjust="spacingAndGlyphs">3,250.00</text>
<text x="1963" y="435.9" textLength="102" lengthAdjust="spacingAndGlyphs">3,000.00</text>
<text x="1963" y="507" textLength="102" lengthAdjust="spacingAndGlyphs">2,750.00</text>
<text x="1963" y="649.1" textLength="102" lengthAdjust="spacingAndGlyphs">2,250.00</text>
<text x="1963" y="720.2" textLength="102" lengthAdjust="spacingAndGlyphs">2,000.00</text>
<text x="1963" y="791.3" textLength="102" lengthAdjust="spacingAndGlyphs">1,750.00</text>
<text x="1963" y="862.4" textLength="102" lengthAdjust="spacingAndGlyphs">1,500.00</text>
<text x="1963" y="946.8" textLength="80" lengthAdjust="spacingAndGlyphs" clip-path="url(#c300)">300.00</text>
<text x="1963" y="1024.6" textLength="80" lengthAdjust="spacingAndGlyphs">200.00</text>
<text x="1963" y="1102.6" textLength="80" lengthAdjust="spacingAndGlyphs">100.00</text>
<text x="1963" y="1180.3" textLength="50" lengthAdjust="spacingAndGlyphs">0.00</text>
<text x="1963" y="1258.2" textLength="95" lengthAdjust="spacingAndGlyphs">−100.00</text>
<text x="1963" y="1336" textLength="95" lengthAdjust="spacingAndGlyphs">−200.00</text>
</g>

<!-- value boxes -->
<rect x="1946" y="557.4" width="131.7" height="60.5" rx="3" fill="#5a6cee"/>
<text class="w" x="1963" y="581.6" font-size="24" textLength="102" lengthAdjust="spacingAndGlyphs">2,483.92</text>
<text class="wl" x="1963" y="609.3" font-size="24" textLength="102" lengthAdjust="spacingAndGlyphs">13:12:13</text>
<rect x="1946" y="900" width="127.3" height="33.2" rx="3" fill="#ef5350"/>
<text class="w" x="1965" y="925.2" font-size="24" textLength="98" lengthAdjust="spacingAndGlyphs">168.33 K</text>
<rect x="1946" y="1045.4" width="109.7" height="32.5" rx="3" fill="#ff6d00"/>
<text class="w" x="1965" y="1070.2" font-size="24" textLength="78" lengthAdjust="spacingAndGlyphs">133.80</text>
<rect x="1946" y="1079.5" width="93" height="32.5" rx="3" fill="#2962ff"/>
<text class="w" x="1963" y="1104.3" font-size="24" textLength="63" lengthAdjust="spacingAndGlyphs">97.11</text>
<rect x="1946" y="1183.5" width="109.7" height="33.2" rx="3" fill="#ff5252"/>
<text class="w" x="1963" y="1208.7" font-size="24" textLength="80" lengthAdjust="spacingAndGlyphs">−36.69</text>

<!-- time axis -->
<g font-size="23" text-anchor="middle">
<text x="236.3" y="1414.5" textLength="43" lengthAdjust="spacingAndGlyphs">Nov</text>
<text x="465.8" y="1414.5" textLength="44" lengthAdjust="spacingAndGlyphs">Dec</text>
<text x="702.5" y="1414.5" textLength="63" lengthAdjust="spacingAndGlyphs" font-weight="bold">2025</text>
<text x="939.5" y="1414.5" textLength="42" lengthAdjust="spacingAndGlyphs">Feb</text>
<text x="1153.5" y="1414.5" textLength="43" lengthAdjust="spacingAndGlyphs">Mar</text>
<text x="1390.4" y="1414.5" textLength="42" lengthAdjust="spacingAndGlyphs">Apr</text>
<text x="1619.7" y="1414.5" textLength="47" lengthAdjust="spacingAndGlyphs">May</text>
<text x="1856.6" y="1414.5" textLength="40" lengthAdjust="spacingAndGlyphs">Jun</text>
</g>

<!-- branding -->
<g fill="#131722">
<path d="M20,1456 H37 V1476 H28.5 V1464 H20 Z"/>
<circle cx="42" cy="1460.2" r="4.2"/>
<path d="M49,1456 H59 L51,1476 H41 Z"/>
</g>
<text x="67" y="1476" font-size="26" textLength="147" lengthAdjust="spacingAndGlyphs">TradingView</text>
</svg>
</body></html>
